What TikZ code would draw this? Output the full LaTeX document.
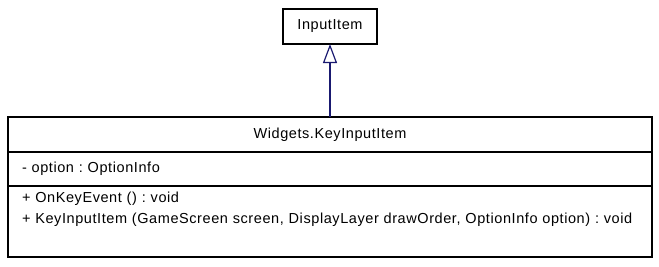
\documentclass[tikz,border=0pt]{standalone}
\usepackage{fontspec}
\setmainfont[LetterSpace=4]{Liberation Sans}
\usetikzlibrary{positioning,arrows.meta}
\definecolor{edgeblue}{RGB}{25,25,112}
\frenchspacing

\begin{document}
\begin{tikzpicture}[x=1pt,y=-1pt,font=\fontsize{14.5}{21}\selectfont,
    box/.style={draw,line width=1.5pt,outer sep=0pt,inner sep=0pt},
    part/.style={box,minimum width=644pt,text width=616pt,align=left}]
    \useasboundingbox (0,0) rectangle (659,266);
    \node[box,minimum width=94pt,minimum height=35pt] (Base) at (330,26.5){InputItem};
    \node[box,minimum width=644pt,minimum height=35pt] (Name) at (330,134.5){Widgets.KeyInputItem};
    \node[part,minimum height=34pt,below=0pt of Name] (Attrs) {- option : OptionInfo};
    \node[part,minimum height=71pt,below=0pt of Attrs] (Ops) {+ OnKeyEvent () : void\\
      + KeyInputItem (GameScreen screen, DisplayLayer drawOrder, OptionInfo option) : void\\ \strut};
    %\path[-latex,edgeblue] (Name) edge (Base);
    \path[-{Triangle[open,length=19pt,width=14pt]},edgeblue,line width=1.2pt] (Name) edge (Base);
  \end{tikzpicture}
\end{document}
